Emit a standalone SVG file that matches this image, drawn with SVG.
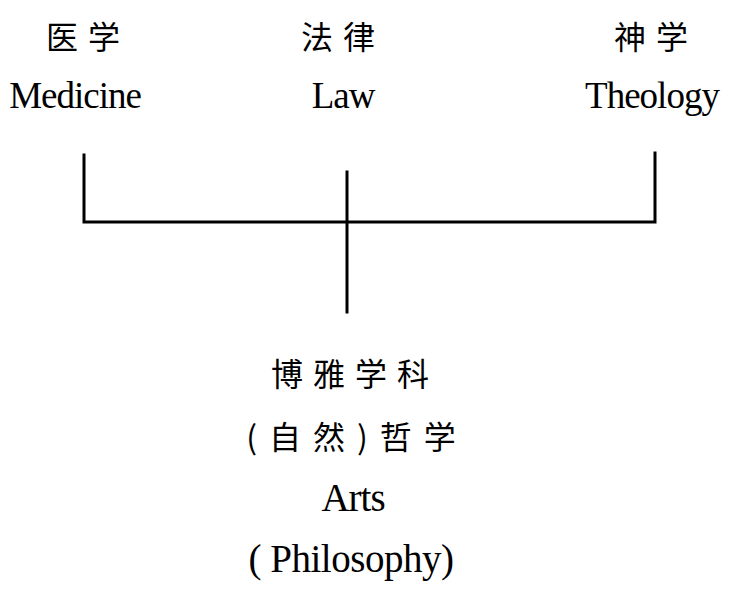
<svg xmlns="http://www.w3.org/2000/svg" width="729" height="594" viewBox="0 0 729 594">
<style>
.zh{font-family:"Noto Sans CJK SC","Liberation Serif",serif;font-size:32px;fill:#000;text-anchor:middle;letter-spacing:10px}
.en{font-family:"Liberation Serif","Noto Sans CJK SC",serif;font-size:37px;fill:#000;text-anchor:middle;letter-spacing:-1px}
.ln{stroke:#000;stroke-width:3;fill:none;stroke-linecap:square}
</style>
<rect width="729" height="594" fill="#fff"/>
<g id="medicine">
<text class="zh" x="88" y="49">医学</text>
<text class="en" x="75" y="108">Medicine</text>
</g>
<g id="law">
<text class="zh" x="343" y="49">法律</text>
<text class="en" x="343" y="108">Law</text>
</g>
<g id="theology">
<text class="zh" x="656" y="49">神学</text>
<text class="en" x="652" y="108">Theology</text>
</g>
<g id="arts">
<text class="zh" x="355" y="386">博雅学科</text>
<text class="zh" x="357" y="449" style="letter-spacing:12px">(自然)哲学</text>
<text class="en" x="353" y="511" style="font-size:39px">Arts</text>
<text class="en" x="351" y="572" style="font-size:39px;letter-spacing:-0.5px">( Philosophy)</text>
</g>
<g id="connectors">
<path class="ln" d="M84 155 V222 H655 V153"/>
<path class="ln" d="M347 172 V312"/>
</g>
</svg>
